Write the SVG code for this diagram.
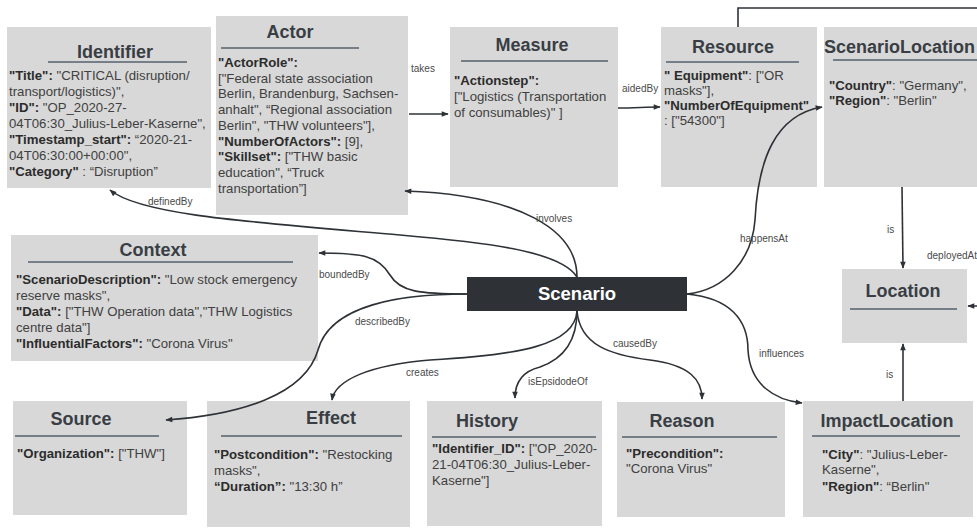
<svg xmlns="http://www.w3.org/2000/svg" width="977" height="529" viewBox="0 0 977 529">
<style>
.box{fill:#d8d8d8}
.title{font:bold 18px "Liberation Sans",Arial,sans-serif;fill:#393e44;text-anchor:middle}
.ul{stroke:#56626d;stroke-width:1.5}
.txt{font:13.2px "Liberation Sans",Arial,sans-serif;fill:#404040}
.b{font-weight:bold;fill:#2c2c2c}
.lbl{font:10px "Liberation Sans",Arial,sans-serif;fill:#4a4a4a}
.edge{fill:none;stroke:#2e3237;stroke-width:1.6}
.scen{fill:#2e3237}
.scentxt{font:bold 18.5px "Liberation Sans",Arial,sans-serif;fill:#ffffff;text-anchor:middle}
</style>
<defs>
<marker id="ah" viewBox="0 0 10 10" refX="9" refY="5" markerWidth="8" markerHeight="7" markerUnits="userSpaceOnUse" orient="auto">
<path d="M0,1 L10,5 L0,9 z" fill="#2e3237"/>
</marker>
</defs>

<g id="identifier">
<rect class="box" x="7" y="27" width="204" height="161"/>
<text class="title" x="115" y="58">Identifier</text>
<line class="ul" x1="48" y1="62" x2="187" y2="62"/>
<text class="txt" x="9" y="80"><tspan class="b">"Title":</tspan> "CRITICAL (disruption/</text>
<text class="txt" x="9" y="96">transport/logistics)",</text>
<text class="txt" x="9" y="112"><tspan class="b">"ID":</tspan> "OP_2020-27-</text>
<text class="txt" x="9" y="128">04T06:30_Julius-Leber-Kaserne",</text>
<text class="txt" x="9" y="144"><tspan class="b">"Timestamp_start":</tspan> “2020-21-</text>
<text class="txt" x="9" y="160">04T06:30:00+00:00",</text>
<text class="txt" x="9" y="176"><tspan class="b">"Category"</tspan> : “Disruption”</text>
</g>

<g id="actor">
<rect class="box" x="216" y="16" width="192" height="199"/>
<text class="title" x="290" y="38">Actor</text>
<line class="ul" x1="221" y1="48" x2="359" y2="48"/>
<text class="txt" x="218" y="67"><tspan class="b">"ActorRole":</tspan></text>
<text class="txt" x="218" y="83">["Federal state association</text>
<text class="txt" x="218" y="98">Berlin, Brandenburg, Sachsen-</text>
<text class="txt" x="218" y="114">anhalt", “Regional association</text>
<text class="txt" x="218" y="130">Berlin", "THW volunteers"],</text>
<text class="txt" x="218" y="146"><tspan class="b">"NumberOfActors":</tspan> [9],</text>
<text class="txt" x="218" y="161"><tspan class="b">"Skillset":</tspan> ["THW basic</text>
<text class="txt" x="218" y="177">education", “Truck</text>
<text class="txt" x="218" y="193">transportation”]</text>
</g>

<g id="measure">
<rect class="box" x="450" y="27" width="168" height="160"/>
<text class="title" x="532" y="51">Measure</text>
<line class="ul" x1="461" y1="61" x2="608" y2="61"/>
<text class="txt" x="454" y="85"><tspan class="b">"Actionstep":</tspan></text>
<text class="txt" x="454" y="101">["Logistics (Transportation</text>
<text class="txt" x="454" y="117">of consumables)" ]</text>
</g>

<g id="resource">
<rect class="box" x="661" y="27" width="156" height="160"/>
<text class="title" x="733" y="53">Resource</text>
<line class="ul" x1="666" y1="62" x2="799" y2="62"/>
<text class="txt" x="664" y="80"><tspan class="b">" Equipment"</tspan>: ["OR</text>
<text class="txt" x="664" y="95">masks"],</text>
<text class="txt" x="664" y="110"><tspan class="b">"NumberOfEquipment"</tspan></text>
<text class="txt" x="664" y="125">: ["54300"]</text>
</g>

<g id="scenariolocation">
<rect class="box" x="824" y="27" width="160" height="160"/>
<text class="title" x="824" y="53" style="text-anchor:start">ScenarioLocation</text>
<line class="ul" x1="833" y1="60" x2="977" y2="60"/>
<text class="txt" x="829" y="90"><tspan class="b">"Country"</tspan>: "Germany",</text>
<text class="txt" x="829" y="105"><tspan class="b">"Region"</tspan>: "Berlin"</text>
</g>

<g id="context">
<rect class="box" x="11" y="235" width="307" height="126"/>
<text class="title" x="153" y="256">Context</text>
<line class="ul" x1="28" y1="262" x2="293" y2="262"/>
<text class="txt" x="16" y="284"><tspan class="b">"ScenarioDescription":</tspan> "Low stock emergency</text>
<text class="txt" x="16" y="300">reserve masks",</text>
<text class="txt" x="16" y="316"><tspan class="b">"Data":</tspan> ["THW Operation data","THW Logistics</text>
<text class="txt" x="16" y="332">centre data"]</text>
<text class="txt" x="16" y="348"><tspan class="b">"InfluentialFactors":</tspan> "Corona Virus"</text>
</g>

<g id="scenario">
<rect class="scen" x="467" y="277" width="220" height="34"/>
<text class="scentxt" x="577" y="300">Scenario</text>
</g>

<g id="location">
<rect class="box" x="842" y="269" width="125" height="74"/>
<text class="title" x="903" y="297">Location</text>
<line class="ul" x1="850" y1="309" x2="957" y2="309"/>
</g>

<g id="source">
<rect class="box" x="13" y="401" width="174" height="114"/>
<text class="title" x="81" y="425">Source</text>
<line class="ul" x1="15" y1="436" x2="159" y2="436"/>
<text class="txt" x="17" y="458"><tspan class="b">"Organization":</tspan> ["THW"]</text>
</g>

<g id="effect">
<rect class="box" x="207" y="401" width="203" height="126"/>
<text class="title" x="331" y="424">Effect</text>
<line class="ul" x1="221" y1="436" x2="402" y2="436"/>
<text class="txt" x="214" y="459"><tspan class="b">"Postcondition":</tspan> "Restocking</text>
<text class="txt" x="214" y="475">masks",</text>
<text class="txt" x="214" y="491"><tspan class="b">“Duration”:</tspan> "13:30 h”</text>
</g>

<g id="history">
<rect class="box" x="427" y="401" width="175" height="125"/>
<text class="title" x="487" y="427">History</text>
<line class="ul" x1="432" y1="437" x2="596" y2="437"/>
<text class="txt" x="432" y="453"><tspan class="b">"Identifier_ID":</tspan> ["OP_2020-</text>
<text class="txt" x="432" y="469">21-04T06:30_Julius-Leber-</text>
<text class="txt" x="432" y="485">Kaserne"]</text>
</g>

<g id="reason">
<rect class="box" x="617" y="402" width="168" height="115"/>
<text class="title" x="682" y="427">Reason</text>
<line class="ul" x1="622" y1="437" x2="777" y2="437"/>
<text class="txt" x="626" y="458"><tspan class="b">"Precondition":</tspan></text>
<text class="txt" x="626" y="473">"Corona Virus"</text>
</g>

<g id="impactlocation">
<rect class="box" x="803" y="401" width="170" height="116"/>
<text class="title" x="887" y="427">ImpactLocation</text>
<line class="ul" x1="812" y1="436" x2="960" y2="436"/>
<text class="txt" x="822" y="459"><tspan class="b">"City"</tspan>: "Julius-Leber-</text>
<text class="txt" x="822" y="474">Kaserne",</text>
<text class="txt" x="822" y="491"><tspan class="b">"Region"</tspan>: “Berlin"</text>
</g>

<g id="connectors">
<path class="edge" d="M409,114 H448" marker-end="url(#ah)"/>
<path class="edge" d="M618,108 C635,108 645,107 660,107" marker-end="url(#ah)"/>
<path class="edge" d="M738,27 V8 H990 V306 H968" marker-end="url(#ah)"/>
<path class="edge" d="M577,277 C577,230 520,195 405,191" marker-end="url(#ah)"/>
<path class="edge" d="M577,277 C560,250 480,242 400,235 C250,222 140,215 110,190" marker-end="url(#ah)"/>
<path class="edge" d="M467,294 C420,294 400,292 390,275 C378,255 360,253 319,253" marker-end="url(#ah)"/>
<path class="edge" d="M467,294 C400,294 330,305 318,350 C305,395 240,415 166,420" marker-end="url(#ah)"/>
<path class="edge" d="M577,311 C575,345 520,355 430,360 C370,365 335,380 332,400" marker-end="url(#ah)"/>
<path class="edge" d="M577,311 C577,345 560,360 540,367 C520,372 515,385 515,398" marker-end="url(#ah)"/>
<path class="edge" d="M577,311 C580,345 610,355 650,360 C690,365 702,380 702,399" marker-end="url(#ah)"/>
<path class="edge" d="M687,294 C725,290 752,260 755,220 C758,160 775,115 822,107" marker-end="url(#ah)"/>
<path class="edge" d="M687,294 C730,298 748,320 748,350 C750,385 775,400 802,403" marker-end="url(#ah)"/>
<path class="edge" d="M902,187 L903,268" marker-end="url(#ah)"/>
<path class="edge" d="M903,401 V344" marker-end="url(#ah)"/>
<text class="lbl" x="411" y="72">takes</text>
<text class="lbl" x="622" y="92">aidedBy</text>
<text class="lbl" x="148" y="205">definedBy</text>
<text class="lbl" x="536" y="222">involves</text>
<text class="lbl" x="319" y="278">boundedBy</text>
<text class="lbl" x="355" y="325">describedBy</text>
<text class="lbl" x="406" y="376">creates</text>
<text class="lbl" x="528" y="385">isEpsidodeOf</text>
<text class="lbl" x="613" y="347">causedBy</text>
<text class="lbl" x="740" y="242">happensAt</text>
<text class="lbl" x="759" y="357">influences</text>
<text class="lbl" x="887" y="233">is</text>
<text class="lbl" x="927" y="259">deployedAt</text>
<text class="lbl" x="886" y="378">is</text>
</g>
</svg>
